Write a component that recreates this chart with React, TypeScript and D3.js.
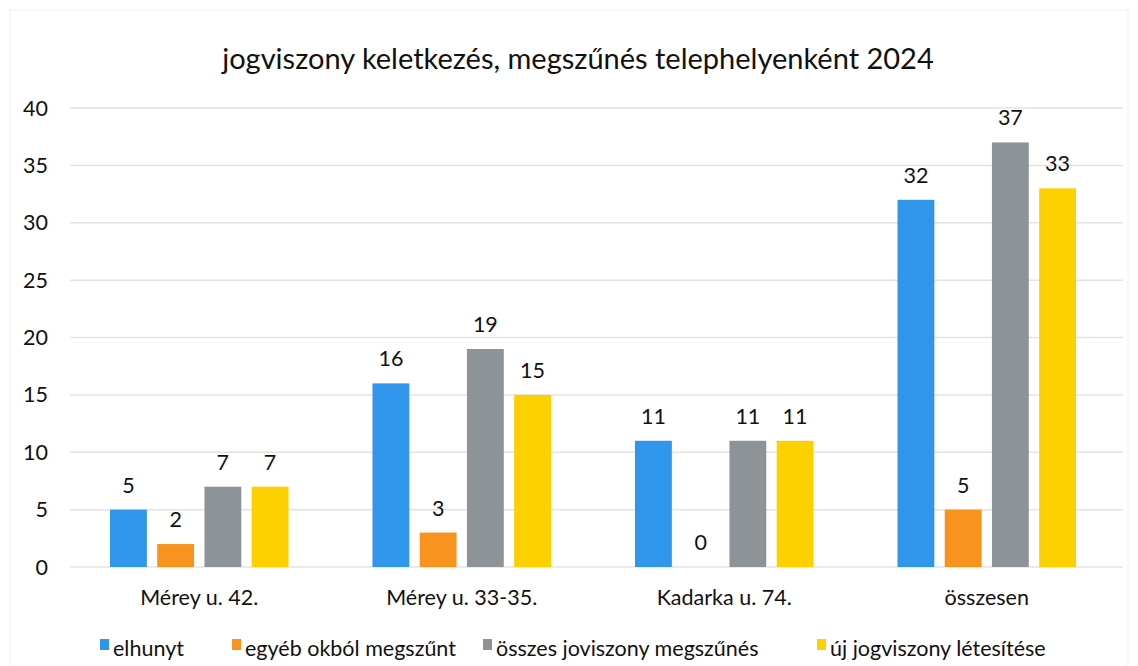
import * as d3 from "d3";

const categories = ["Mérey u. 42.", "Mérey u. 33-35.", "Kadarka u. 74.", "összesen"];
const seriesNames = [
  "elhunyt",
  "egyéb okból megszűnt",
  "összes joviszony megszűnés",
  "új jogviszony létesítése",
];
const elhunyt = [5, 16, 11, 32];
const egyeb = [2, 3, 0, 5];
const osszes = [7, 19, 11, 37];
const uj = [7, 15, 11, 33];
const yTicks = [0, 5, 10, 15, 20, 25, 30, 35, 40];

const colors = ["#2f96ec", "#f7931e", "#8e9397", "#fdd000"];
const seriesValues = [elhunyt, egyeb, osszes, uj];

const W = 1138;
const H = 666;
const font = "Lato, 'Open Sans', sans-serif";

const App = () => {
  const margin = { left: 68, right: 20, top: 108, bottom: 99 };
  const x0 = d3
    .scaleBand<string>()
    .domain(categories)
    .range([margin.left, W - margin.right])
    .paddingInner(0.32)
    .paddingOuter(0.16);
  const x1 = d3
    .scaleBand<string>()
    .domain(seriesNames)
    .range([0, x0.bandwidth()])
    .paddingInner(0.22);
  const y = d3.scaleLinear().domain([0, 40]).range([H - margin.bottom, margin.top]);

  // legend marker x positions
  const legendX = [100, 232, 483, 817];

  return (
    <svg
      width={W}
      height={H}
      style={{ position: "absolute", left: 0, top: 0, background: "#fff" }}
      fontFamily={font}
    >
      <rect x={10} y={10} width={W - 20} height={H - 10} fill="none" stroke="#f0f0f0" />
      <text x={578} y={69} textAnchor="middle" fontSize={29} fill="#111">
        jogviszony keletkezés, megszűnés telephelyenként 2024
      </text>

      {yTicks.map((t) => (
        <g key={t}>
          <line
            x1={70}
            x2={1123}
            y1={y(t)}
            y2={y(t)}
            stroke="#e3e3e3"
            strokeWidth={1.5}
          />
          <text x={48} y={y(t)} dy="0.35em" textAnchor="end" fontSize={21.5} fill="#111">
            {t}
          </text>
        </g>
      ))}

      {categories.map((c, ci) => (
        <g key={c} transform={`translate(${x0(c)},0)`}>
          {seriesNames.map((s, si) => {
            const v = seriesValues[si][ci];
            const bx = x1(s)!;
            return (
              <g key={s}>
                {v > 0 && (
                  <rect
                    x={bx}
                    y={y(v)}
                    width={x1.bandwidth()}
                    height={y(0) - y(v)}
                    fill={colors[si]}
                  />
                )}
                <text
                  x={bx + x1.bandwidth() / 2}
                  y={y(v) - 17}
                  textAnchor="middle"
                  fontSize={21.5}
                  fill="#111"
                >
                  {v}
                </text>
              </g>
            );
          })}
          <text
            x={x0.bandwidth() / 2}
            y={605}
            textAnchor="middle"
            fontSize={21.5}
            fill="#111"
          >
            {c}
          </text>
        </g>
      ))}

      {seriesNames.map((s, si) => (
        <g key={s} transform={`translate(${legendX[si]},648)`}>
          <rect x={0} y={-9} width={9} height={11} fill={colors[si]} />
          <text x={13} y={0} dy="0.35em" fontSize={21.5} fill="#111">
            {s}
          </text>
        </g>
      ))}
    </svg>
  );
};

export default App;
